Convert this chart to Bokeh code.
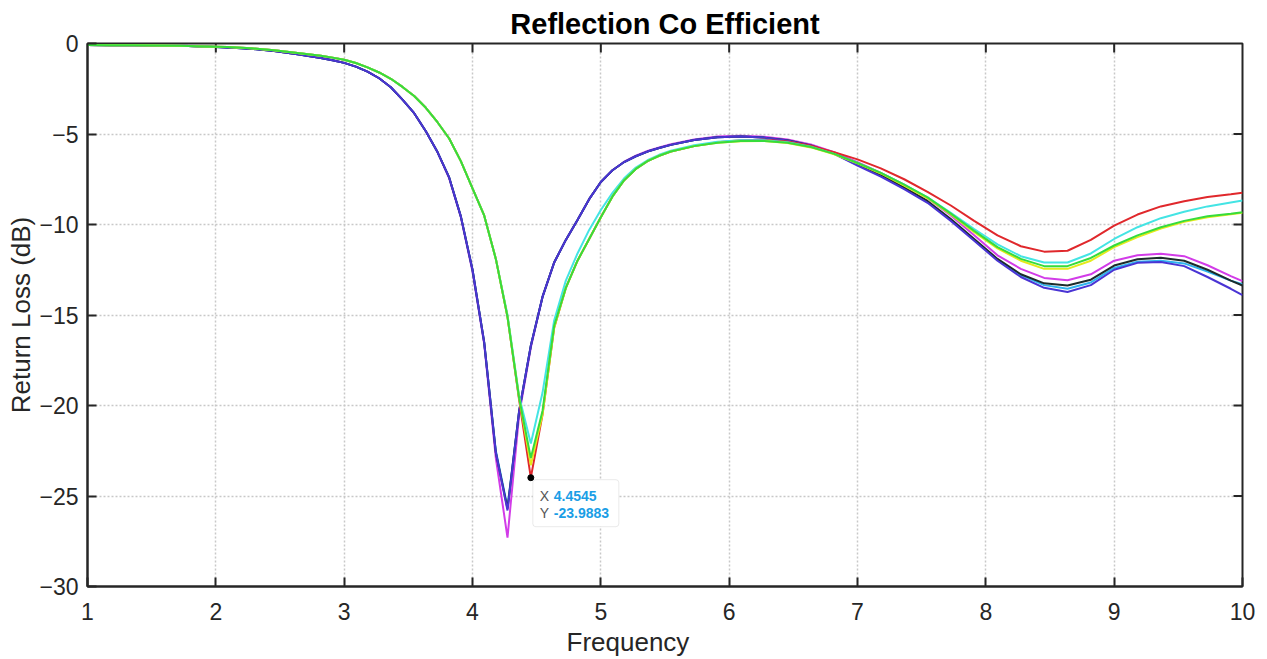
from bokeh.plotting import figure
from bokeh.models import Range1d, FixedTicker, Label, BoxAnnotation, Title
from bokeh.embed import file_html
from bokeh.resources import INLINE

# ---------------- data ----------------
x_ticks = [1, 2, 3, 4, 5, 6, 7, 8, 9, 10]
y_ticks = [-30, -25, -20, -15, -10, -5, 0]

# sweep frequencies (a subset of the 100-point sweep, dense around the resonances)
freq = [1.0, 1.1818, 1.3636, 1.5455, 1.7273, 1.9091, 2.0909, 2.2727, 2.4545, 2.6364,
        2.8182, 2.9091, 3.0, 3.0909, 3.1818, 3.2727, 3.3636, 3.4545, 3.5455, 3.6364,
        3.7273, 3.8182, 3.9091, 4.0, 4.0909, 4.1818, 4.2727, 4.3636, 4.4545, 4.5455,
        4.6364, 4.7273, 4.8182, 4.9091, 5.0, 5.0909, 5.1818, 5.2727, 5.3636, 5.4545,
        5.5455, 5.7273, 5.9091, 6.0909, 6.2727, 6.4545, 6.6364, 6.8182, 7.0, 7.1818,
        7.3636, 7.5455, 7.7273, 7.9091, 8.0909, 8.2727, 8.4545, 8.6364, 8.8182, 9.0,
        9.1818, 9.3636, 9.5455, 9.7273, 9.9091, 10.0]

# designs resonating near 4.27 GHz
blue = [-0.08, -0.09, -0.1, -0.11, -0.13, -0.17, -0.22, -0.29, -0.42, -0.6,
        -0.8, -0.93, -1.07, -1.28, -1.55, -1.92, -2.42, -3.1, -3.85, -4.85,
        -6.0, -7.4, -9.55, -12.5, -16.5, -22.6, -25.8, -20.3, -16.7, -14.0,
        -12.1, -10.85, -9.75, -8.6, -7.65, -7.0, -6.55, -6.23, -5.97, -5.77,
        -5.6, -5.33, -5.18, -5.14, -5.2, -5.36, -5.65, -6.1, -6.75, -7.35,
        -8.05, -8.8, -9.8, -10.9, -12.0, -12.9, -13.5, -13.73, -13.35, -12.5,
        -12.12, -12.07, -12.3, -12.9, -13.55, -13.9]
magenta = [-0.08, -0.09, -0.1, -0.11, -0.13, -0.17, -0.22, -0.29, -0.42, -0.6,
           -0.8, -0.93, -1.07, -1.28, -1.55, -1.92, -2.42, -3.1, -3.85, -4.85,
           -6.0, -7.45, -9.6, -12.6, -16.6, -22.9, -27.3, -20.5, -16.8, -14.0,
           -12.1, -10.85, -9.75, -8.6, -7.65, -7.0, -6.53, -6.2, -5.94, -5.74,
           -5.57, -5.3, -5.14, -5.1, -5.15, -5.3, -5.58, -6.0, -6.55, -7.15,
           -7.8, -8.55, -9.5, -10.6, -11.7, -12.45, -12.95, -13.08, -12.75, -12.0,
           -11.7, -11.62, -11.75, -12.25, -12.85, -13.13]
black = [-0.08, -0.09, -0.1, -0.11, -0.13, -0.17, -0.22, -0.29, -0.42, -0.6,
         -0.8, -0.93, -1.07, -1.28, -1.55, -1.92, -2.42, -3.1, -3.85, -4.85,
         -6.0, -7.4, -9.55, -12.5, -16.5, -22.6, -25.7, -20.3, -16.7, -14.0,
         -12.1, -10.85, -9.75, -8.6, -7.65, -7.0, -6.55, -6.23, -5.97, -5.77,
         -5.6, -5.33, -5.18, -5.14, -5.2, -5.35, -5.63, -6.07, -6.65, -7.25,
         -7.95, -8.7, -9.7, -10.8, -11.9, -12.75, -13.25, -13.37, -13.05, -12.27,
         -11.92, -11.84, -12.0, -12.5, -13.1, -13.37]
skyblue = [-0.08, -0.09, -0.1, -0.11, -0.13, -0.17, -0.22, -0.29, -0.42, -0.6,
           -0.8, -0.93, -1.07, -1.28, -1.55, -1.92, -2.42, -3.1, -3.85, -4.85,
           -6.0, -7.4, -9.55, -12.5, -16.5, -22.5, -25.6, -20.3, -16.7, -14.0,
           -12.1, -10.85, -9.75, -8.6, -7.65, -7.0, -6.55, -6.23, -5.97, -5.77,
           -5.6, -5.33, -5.18, -5.14, -5.2, -5.36, -5.65, -6.1, -6.7, -7.3,
           -8.0, -8.75, -9.75, -10.85, -11.95, -12.8, -13.35, -13.55, -13.2, -12.4,
           -12.06, -12.0, -12.15, -12.6, -13.1, -13.3]

# designs resonating near 4.45 GHz
green = [-0.08, -0.09, -0.1, -0.11, -0.13, -0.16, -0.2, -0.26, -0.37, -0.52,
         -0.68, -0.78, -0.9, -1.08, -1.32, -1.6, -1.95, -2.4, -2.9, -3.55,
         -4.35, -5.25, -6.5, -8.0, -9.5, -11.9, -15.1, -19.6, -22.9, -20.3,
         -15.6, -13.5, -12.0, -10.8, -9.6, -8.45, -7.55, -6.93, -6.5, -6.2,
         -5.97, -5.67, -5.48, -5.39, -5.38, -5.48, -5.72, -6.1, -6.6, -7.15,
         -7.8, -8.5, -9.4, -10.35, -11.25, -11.9, -12.3, -12.3, -11.85, -11.16,
         -10.6, -10.15, -9.8, -9.55, -9.4, -9.32]
yellow = [-0.08, -0.09, -0.1, -0.11, -0.13, -0.16, -0.2, -0.26, -0.37, -0.52,
          -0.68, -0.78, -0.9, -1.08, -1.32, -1.6, -1.95, -2.4, -2.9, -3.55,
          -4.35, -5.25, -6.5, -8.0, -9.5, -11.9, -15.1, -19.6, -23.3, -20.5,
          -15.7, -13.5, -12.0, -10.8, -9.6, -8.45, -7.55, -6.93, -6.5, -6.2,
          -5.97, -5.67, -5.49, -5.4, -5.39, -5.5, -5.74, -6.12, -6.62, -7.18,
          -7.85, -8.55, -9.45, -10.42, -11.32, -12.0, -12.45, -12.45, -12.0, -11.25,
          -10.7, -10.22, -9.85, -9.6, -9.43, -9.35]
red = [-0.08, -0.09, -0.1, -0.11, -0.13, -0.16, -0.2, -0.26, -0.37, -0.52,
       -0.68, -0.78, -0.9, -1.08, -1.32, -1.6, -1.95, -2.4, -2.9, -3.55,
       -4.35, -5.25, -6.5, -8.0, -9.5, -11.9, -15.1, -19.7, -23.9883, -20.5,
       -15.7, -13.5, -12.0, -10.8, -9.6, -8.45, -7.55, -6.93, -6.5, -6.2,
       -5.97, -5.67, -5.46, -5.35, -5.32, -5.42, -5.65, -6.0, -6.4, -6.9,
       -7.5, -8.2, -8.95, -9.8, -10.6, -11.2, -11.5, -11.45, -10.85, -10.06,
       -9.45, -9.0, -8.72, -8.48, -8.33, -8.25]
cyan = [-0.08, -0.09, -0.1, -0.11, -0.13, -0.16, -0.2, -0.26, -0.37, -0.52,
        -0.68, -0.78, -0.9, -1.08, -1.32, -1.6, -1.95, -2.4, -2.9, -3.55,
        -4.35, -5.25, -6.5, -8.0, -9.5, -11.9, -15.0, -19.5, -22.1, -19.3,
        -15.3, -13.1, -11.6, -10.3, -9.2, -8.25, -7.45, -6.85, -6.45, -6.15,
        -5.92, -5.62, -5.43, -5.35, -5.34, -5.45, -5.7, -6.1, -6.6, -7.15,
        -7.8, -8.5, -9.35, -10.25, -11.1, -11.75, -12.1, -12.1, -11.6, -10.8,
        -10.15, -9.65, -9.3, -9.0, -8.78, -8.67]

tip_x = [4.4545]
tip_y = [-23.9883]
tip_label_x = "4.4545"
tip_label_y = "-23.9883"

# ---------------- figure ----------------
FONT = "Liberation Sans"
INK = "#262626"

p = figure(width=1267, height=659, output_backend="svg", toolbar_location=None,
           x_range=Range1d(1, 10), y_range=Range1d(-30, 0),
           min_border_left=87, min_border_right=25, min_border_top=43,
           min_border_bottom=73, background_fill_color="white",
           border_fill_color="white", outline_line_color=INK, outline_line_width=2)

p.title.text = "Reflection Co Efficient"
p.title.align = "center"
p.title.text_font = FONT
p.title.text_font_size = "29px"
p.title.text_font_style = "bold"
p.title.text_color = "black"
p.title.standoff = 7

for ax in (p.xaxis[0], p.yaxis[0]):
    ax.axis_line_color = INK
    ax.axis_line_width = 2
    ax.major_tick_line_color = INK
    ax.major_tick_line_width = 2
    ax.major_tick_in = 9
    ax.major_tick_out = 0
    ax.minor_tick_line_color = None
    ax.major_label_text_font = FONT
    ax.major_label_text_font_size = "23px"
    ax.major_label_text_color = INK

p.xaxis.ticker = FixedTicker(ticks=x_ticks)
p.yaxis.ticker = FixedTicker(ticks=y_ticks)
p.xaxis.major_label_standoff = 16
p.yaxis.major_label_standoff = 9

p.yaxis.axis_label = "Return Loss (dB)"
p.yaxis.axis_label_text_font = FONT
p.yaxis.axis_label_text_font_size = "26px"
p.yaxis.axis_label_text_font_style = "normal"
p.yaxis.axis_label_text_color = INK
p.yaxis.axis_label_standoff = 0

# x caption (sits a little left of centre in the reference)
xcap = Title(text="Frequency", align="left", offset=479, text_font=FONT,
             text_font_size="26px", text_font_style="normal", text_color=INK,
             standoff=4, text_line_height=1.0)
p.add_layout(xcap, "below")

p.xgrid.ticker = FixedTicker(ticks=x_ticks)
p.ygrid.ticker = FixedTicker(ticks=y_ticks)
for g in (p.xgrid[0], p.ygrid[0]):
    g.grid_line_color = "#c8c8c8"
    g.grid_line_dash = "2 2"
    g.grid_line_width = 1.5

# inward ticks on the top and right edges of the box
px_per_x = (1242 - 87) / (x_ticks[-1] - x_ticks[0])
px_per_y = (586 - 43) / (y_ticks[-1] - y_ticks[0])
tick_len = 9
tx = x_ticks[1:-1]
p.segment(x0=tx, y0=[y_ticks[-1]] * len(tx), x1=tx,
          y1=[y_ticks[-1] - tick_len / px_per_y] * len(tx), line_color=INK, line_width=2)
ty = y_ticks[1:-1]
p.segment(x0=[x_ticks[-1]] * len(ty), y0=ty, x1=[x_ticks[-1] - tick_len / px_per_x] * len(ty),
          y1=ty, line_color=INK, line_width=2)

# ---------------- curves ----------------
LW = 2
p.line(freq, magenta, line_color="#d23ce8", line_width=LW)
p.line(freq, skyblue, line_color="#30b4ee", line_width=LW)
p.line(freq, black, line_color="#1c2b2b", line_width=LW)
p.line(freq, blue, line_color="#4a34d4", line_width=LW)
p.line(freq, red, line_color="#e0282c", line_width=LW)
p.line(freq, cyan, line_color="#44e4e4", line_width=LW)
p.line(freq, yellow, line_color="#e4ea1c", line_width=LW)
p.line(freq, green, line_color="#36dc3c", line_width=LW)

# ---------------- data tip ----------------
box = BoxAnnotation(left=tip_x[0] + 2 / px_per_x, right=tip_x[0] + 88 / px_per_x,
                    top=tip_y[0] - 2 / px_per_y, bottom=tip_y[0] - 49 / px_per_y,
                    fill_color="white", fill_alpha=1, line_color="#b8b8b8",
                    line_width=1, border_radius=3)
p.add_layout(box)
p.scatter(tip_x, tip_y, size=6, color="black")

for txt, xo, yo, col, style in [("X", 9, -18, "#555555", "normal"),
                                ("Y", 9, -35, "#555555", "normal"),
                                (tip_label_x, 23, -18, "#1a9ee6", "bold"),
                                (tip_label_y, 23, -35, "#1a9ee6", "bold")]:
    p.add_layout(Label(x=tip_x[0], y=tip_y[0], x_offset=xo, y_offset=yo, text=txt,
                       text_font=FONT, text_font_size="14px", text_color=col,
                       text_font_style=style, text_baseline="middle", text_align="left"))

open("out.html", "w").write(file_html(p, INLINE))
